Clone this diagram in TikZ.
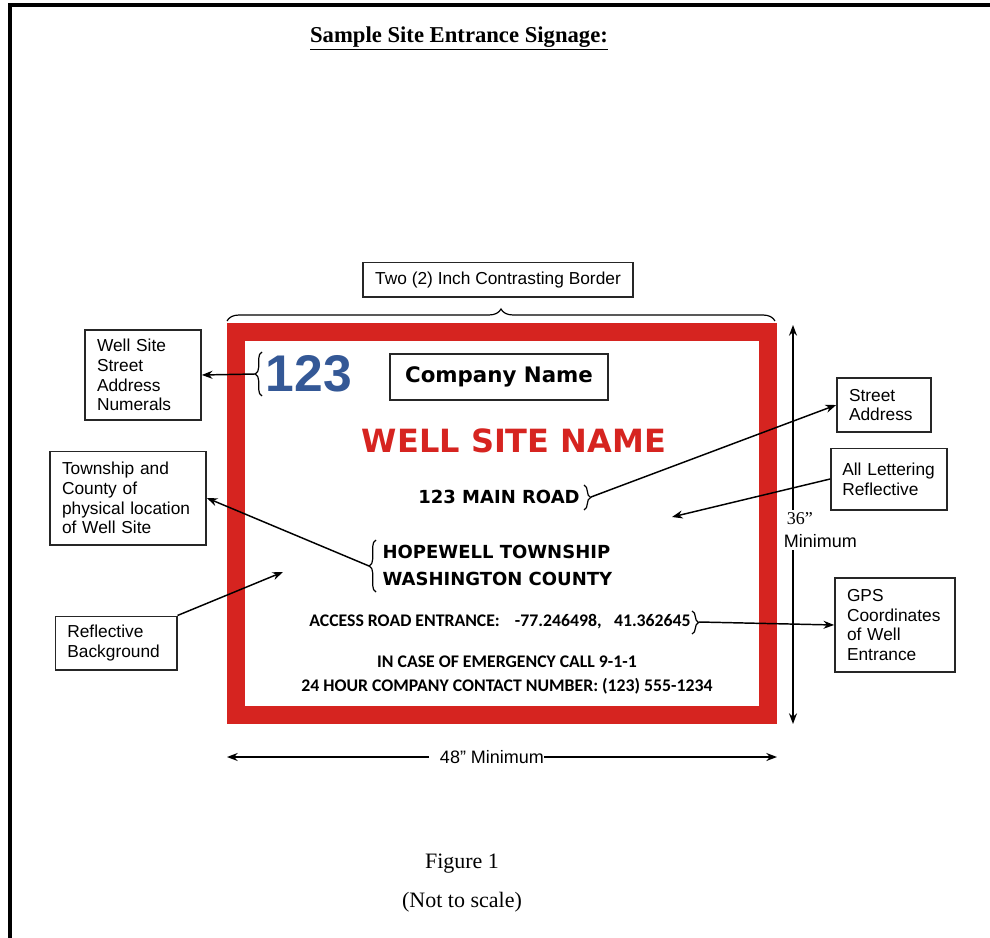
\documentclass[tikz,border=0pt]{standalone}
\usepackage{fontspec}
\setmainfont{Liberation Serif}
\setsansfont{Liberation Sans}
\newfontfamily\signfont{DejaVu Sans}
\newfontfamily\calfont{Carlito}
\usepackage{xcolor}
\usetikzlibrary{arrows.meta,positioning,calc,decorations.pathreplacing}
\definecolor{signred}{RGB}{214,36,32}
\definecolor{numblue}{RGB}{52,88,150}

\begin{document}
\begin{tikzpicture}[
    x=0.75pt, y=-0.75pt,
    note/.style={rectangle, draw=black!85, line width=1.25pt, font=\sffamily\fontsize{13}{14.8}\selectfont, align=left, inner xsep=9pt, inner ysep=0pt},
    signbold/.style={font=\signfont\bfseries\fontsize{13.5}{20.2}\selectfont, inner sep=1pt},
    calline/.style={font=\calfont\bfseries\fontsize{13.3}{18}\selectfont, align=center, inner sep=1pt},
    dim/.style={font=\sffamily\fontsize{13.5}{17}\selectfont, inner sep=2pt},
    arrow/.style={->, >={Stealth[length=8pt, width=6pt]}, line width=1.1pt},
    curly/.style={decorate, decoration={brace, amplitude=5pt}, line width=0.9pt}
]
\useasboundingbox (0,0) rectangle (990,938);
\draw[line width=3pt] (10,938) -- (10,5) -- (990,5);

\node[font=\bfseries\fontsize{17}{20}\selectfont] (title) at (459,38) {\underline{Sample Site Entrance Signage:}};

\fill[signred] (227,323) rectangle (777,724);
\fill[white] (245,341) rectangle (759,706);

\node[note, align=center, minimum width=202.5pt, minimum height=26pt] (borderbox) at (498,280) {Two (2) Inch Contrasting Border};
\draw[curly, decoration={amplitude=9pt}] (227,321) -- (775,321);

\node[note, text width=69pt, minimum height=67.5pt] (numbox) at (143,375) {Well Site\\Street\\Address\\Numerals};
\node[note, text width=99pt, minimum height=70pt] (townbox) at (128,498) {Township and\\County of\\physical location\\of Well Site};
\node[note, text width=73pt, minimum height=40pt] (bgbox) at (116,643) {Reflective\\Background};
\node[note, text width=52.5pt, minimum height=40.5pt] (streetbox) at (884,405) {Street\\Address};
\node[note, text width=70pt, inner xsep=8.5pt, minimum height=46pt] (letterbox) at (889,479) {All Lettering\\Reflective};
\node[note, text width=72pt, minimum height=70.5pt] (gpsbox) at (895,625) {GPS\\Coordinates\\of Well\\Entrance};

\node[font=\sffamily\bfseries\fontsize{38.7}{40}\selectfont, text=numblue, inner sep=0pt] (num) at (309,374) {123};
\node[draw=black!85, line width=1.25pt, minimum width=163.5pt, minimum height=34pt, signbold, font=\signfont\bfseries\fontsize{16}{18}\selectfont] (company) at (499,377) {Company Name};
\node[signbold, text=signred, font=\signfont\bfseries\fontsize{24}{26}\selectfont] (wellname) at (514,441) {WELL SITE NAME};
\node[signbold] (road) at (499,497) {123 MAIN ROAD};
\node[signbold, anchor=west, align=left] (township) at (381,565) {HOPEWELL TOWNSHIP\\WASHINGTON COUNTY};
\node[calline] (access) at (500,622) {ACCESS ROAD ENTRANCE:\hspace{0.85em}-77.246498,\hspace{0.7em}41.362645};
\node[calline] (emergency) at (507,675) {IN CASE OF EMERGENCY CALL 9-1-1\\24 HOUR COMPANY CONTACT NUMBER: (123) 555-1234};

\draw[curly] (262,396) -- (262,352);
\coordinate (numtip) at (255,374);
\draw[curly] (584,485) -- (584,510);
\coordinate (roadtip) at (591,497);
\draw[curly] (376,592) -- (376,540);
\coordinate (towntip) at (369,566);
\draw[curly] (692,611) -- (692,634);
\coordinate (gpstip) at (699,622);
\coordinate (lettertarget) at (672,517);
\coordinate (bgtarget) at (283,572);

\draw[arrow] (numtip) -- (numbox.east);
\draw[arrow] (roadtip) -- (streetbox.west);
\draw[arrow] (letterbox.west) -- (lettertarget);
\draw[arrow] (towntip) -- (townbox.east);
\draw[arrow] (bgbox.north east) -- (bgtarget);
\draw[arrow] (gpstip) -- (gpsbox.west);

\coordinate (vtop) at (793,325);
\coordinate (vbot) at (793,724);
\node[dim, anchor=west, align=left] (vdim) at (781,530) {{\rmfamily\,36”}\\Minimum};
\draw[arrow] (vdim.north -| vtop) -- (vtop);
\draw[arrow] (vdim.south -| vtop) -- (vbot);

\coordinate (hleft) at (227,757);
\coordinate (hright) at (777,757);
\node[dim, inner sep=0pt] (hdim) at (492,757) {48” Minimum};
\draw[arrow] ([xshift=-8pt]hdim.west) -- (hleft);
\draw[arrow] (hdim.east) -- (hright);

\node[font=\fontsize{16.5}{19}\selectfont] (figure) at (462,864) {Figure 1};
\node[font=\fontsize{16.5}{19}\selectfont] (scale) at (462,902) {(Not to scale)};
\end{tikzpicture}
\end{document}
